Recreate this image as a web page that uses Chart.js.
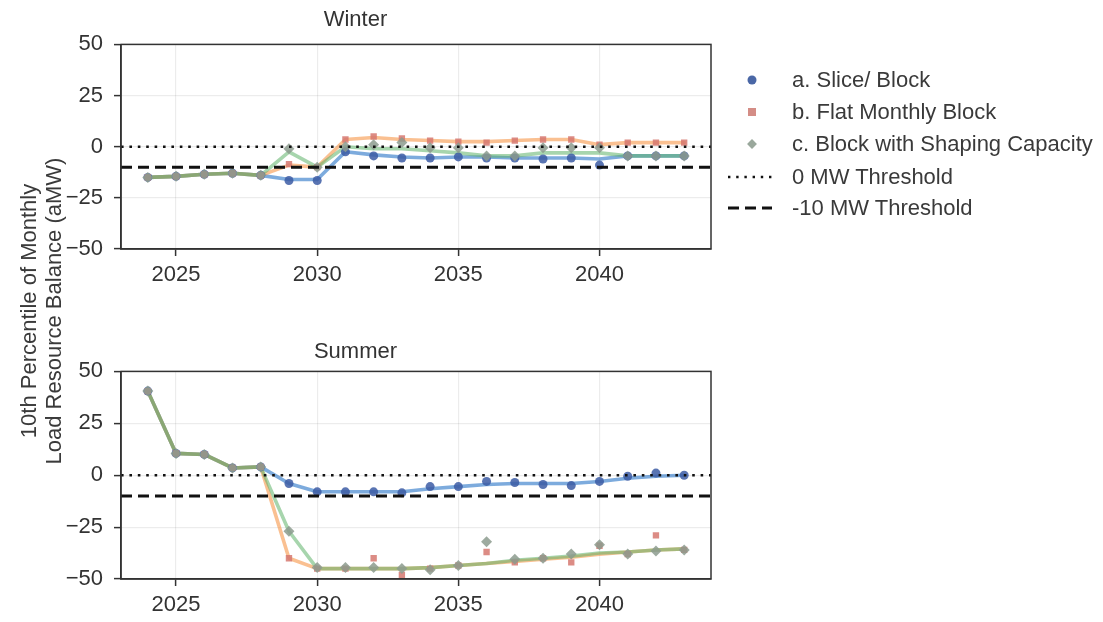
<!DOCTYPE html>
<html><head><meta charset="utf-8">
<script src="https://cdn.jsdelivr.net/npm/chart.js@4.4.1/dist/chart.umd.min.js"></script>
<style>
html,body{margin:0;padding:0;background:#fff;}
body{width:1103px;height:622px;overflow:hidden;position:relative;font-family:"Liberation Sans",Arial,sans-serif;color:#333;}
canvas{position:absolute;left:0;}
#c1{top:0;}
#c2{top:330px;}
.lg{position:absolute;left:0;top:0;}
.row{position:absolute;left:724px;height:30px;width:380px;}
.row svg{position:absolute;left:0;top:0;}
.row span{position:absolute;left:68px;top:0;line-height:30px;font-size:22px;color:#3a3a3a;white-space:nowrap;}
#ytitle{position:absolute;width:420px;height:52px;left:-168px;top:285px;transform:rotate(-90deg);transform-origin:50% 50%;text-align:center;font-size:22px;line-height:25px;color:#3a3a3a;}
</style></head>
<body>
<canvas id="c1" width="832" height="300"></canvas>
<canvas id="c2" width="832" height="292"></canvas>
<div id="ytitle">10th Percentile of Monthly<br>Load Resource Balance (aMW)</div>
<div class="lg" id="legend"></div>
<script>
// ---- data ----
const years = [2024,2025,2026,2027,2028,2029,2030,2031,2032,2033,2034,2035,2036,2037,2038,2039,2040,2041,2042,2043];
const xTicks = [2025,2030,2035,2040];
const yTicks = [-50,-25,0,25,50];
const seriesNames = ["a. Slice/ Block","b. Flat Monthly Block","c. Block with Shaping Capacity"];
const thresholdNames = ["0 MW Threshold","-10 MW Threshold"];
const thresholdValues = [0,-10];

// Winter: points and trend lines
const winterA = [-15,-14.5,-13.5,-13,-14,-16.5,-16.5,-2.5,-4.5,-5.5,-5.5,-5,-5.5,-5.5,-6,-5.5,-9,-4.5,-4.5,-4.5];
const winterB = [-15,-14.5,-13.5,-13,-14,-8.5,-10,3.5,5,4,3,2.5,2,3,3.5,3.5,1,2,2,2];
const winterC = [-15,-14.5,-13.5,-13,-14,-1,-10,0,1,2,-0.5,-0.5,-4.5,-4.5,-0.5,-0.5,-0.5,-4.5,-4.5,-4.5];
const winterLineA = [-15,-14.5,-13.5,-13,-14,-16,-16,-2.5,-4,-5,-5.5,-5,-5,-5.5,-5.5,-5.5,-6,-4.5,-4.5,-4.5];
const winterLineB = [-15,-14.5,-13.5,-13,-14,-9,-10,3.5,4.5,3.5,3,2.5,2.5,3,3.5,3.5,1,2,2,2];
const winterLineC = [-15,-14.5,-13.5,-13,-14,-2.5,-10,0,-1,-1,-2,-3,-4.5,-4.5,-3,-3,-3,-4.5,-4.5,-4.5];

// Summer: points and trend lines
const summerA = [40.5,10.5,10,3.5,4,-4,-8,-8,-8,-8.5,-5.5,-5.5,-3,-3.5,-4.5,-5,-3,-0.5,1,0];
const summerB = [40.5,10.5,10,3.5,4,-40,-45,-45,-40,-48,-45,-43.5,-37,-42,-40,-42,-34,-38,-29,-36];
const summerC = [40.5,10.5,10,3.5,4,-27,-44.5,-44.5,-44.5,-45,-45.5,-43.5,-32,-40.5,-40,-38,-33.5,-38,-36.5,-36];
const summerLineA = [40.5,10.5,10,3.5,4,-4,-8,-8,-8,-8,-6.5,-5.5,-4.5,-4,-4,-4,-3,-1.5,-0.5,0];
const summerLineB = [40.5,10.5,10,3.5,4,-40,-45,-45,-45,-45,-44.5,-43.5,-42.5,-41.5,-40.5,-39.5,-38,-37,-36,-35.5];
const summerLineC = [40.5,10.5,10,3.5,4,-27,-45,-45,-45,-45,-44.5,-43.5,-42.5,-41,-40,-39,-37.5,-37,-36,-35.5];

// ---- styles ----
const FONT = '"Liberation Sans", Arial, sans-serif';
const TXT = '#333';
const xMin = 2023.05, xMax = 2043.95;
const lineColors = ['rgba(45,120,200,0.62)','rgba(245,140,55,0.55)','rgba(95,178,105,0.55)'];
const pointColors = ['rgba(60,92,165,0.85)','rgba(214,120,112,0.85)','rgba(140,155,142,0.85)'];
const pointStyles = ['circle','rect','rectRot'];
const pointRadii = [4.5,4.5,5.5];

const pts = arr => years.map((y,i)=>({x:y,y:arr[i]}));

function buildDatasets(points, lines){
  const ds = [];
  // thresholds on top
  ds.push({label:thresholdNames[0],data:[{x:xMin,y:thresholdValues[0]},{x:xMax,y:thresholdValues[0]}],
    borderColor:'#111',borderWidth:2.6,borderDash:[2.6,5.8],pointRadius:0,fill:false});
  ds.push({label:thresholdNames[1],data:[{x:xMin,y:thresholdValues[1]},{x:xMax,y:thresholdValues[1]}],
    borderColor:'#111',borderWidth:3,borderDash:[11,6],pointRadius:0,fill:false});
  for (let k=2;k>=0;k--){
    ds.push({label:seriesNames[k],data:pts(points[k]),showLine:false,pointStyle:pointStyles[k],
      pointRadius:pointRadii[k],pointBackgroundColor:pointColors[k],pointBorderWidth:0,borderColor:pointColors[k]});
  }
  for (let k=2;k>=0;k--){
    ds.push({label:seriesNames[k]+' trend',data:pts(lines[k]),borderColor:lineColors[k],borderWidth:3.6,
      pointRadius:0,tension:0,fill:false,borderJoinStyle:'round',borderCapStyle:'round'});
  }
  return ds;
}

const framePlugin = {
  id:'frame',
  afterDraw(chart){
    const a = chart.chartArea, ctx = chart.ctx;
    ctx.save();
    ctx.strokeStyle = '#333';
    ctx.lineWidth = 1.5;
    ctx.strokeRect(a.left, a.top, a.right-a.left, a.bottom-a.top);
    ctx.restore();
  }
};

function makeChart(id, title, titlePad, xAxisHeight, points, lines){
  return new Chart(document.getElementById(id), {
    type:'line',
    data:{datasets:buildDatasets(points, lines)},
    plugins:[framePlugin],
    options:{
      responsive:false, animation:false, devicePixelRatio:1,
      layout:{padding:{left:0,right:121,top:0,bottom:0}},
      plugins:{
        legend:{display:false}, tooltip:{enabled:false},
        title:{display:true,text:title,color:TXT,font:{family:FONT,size:22,weight:'normal',lineHeight:1.2},padding:titlePad}
      },
      scales:{
        x:{type:'linear',min:xMin,max:xMax,
          afterBuildTicks:s=>{s.ticks = xTicks.map(v=>({value:v}));},
          afterFit:s=>{s.height = xAxisHeight;},
          grid:{color:'rgba(0,0,0,0.075)',lineWidth:1.2,tickColor:'#333',tickLength:7,tickWidth:1.5},
          border:{display:true,color:'#333',width:1.5},
          ticks:{color:TXT,font:{family:FONT,size:22},padding:6,maxRotation:0,autoSkip:false,callback:v=>String(v)}
        },
        y:{type:'linear',min:-50,max:50,
          afterBuildTicks:s=>{s.ticks = yTicks.map(v=>({value:v}));},
          afterFit:s=>{s.width = 121;},
          grid:{color:'rgba(0,0,0,0.075)',lineWidth:1.2,tickColor:'#333',tickLength:7,tickWidth:1.5},
          border:{display:true,color:'#333',width:1.5},
          ticks:{color:TXT,font:{family:FONT,size:22},padding:11,callback:v=>String(v).replace('-','\u2212')}
        }
      }
    }
  });
}

makeChart('c1','Winter',{top:7,bottom:11},51,[winterA,winterB,winterC],[winterLineA,winterLineB,winterLineC]);
makeChart('c2','Summer',{top:9,bottom:6},43,[summerA,summerB,summerC],[summerLineA,summerLineB,summerLineC]);

// ---- legend (HTML) ----
const legendRows = [
  {y:65, text:seriesNames[0], svg:'<circle cx="28" cy="15" r="4.5" fill="#4a67a6"/>'},
  {y:97, text:seriesNames[1], svg:'<rect x="24" y="11" width="8" height="8" fill="#d48d86"/>'},
  {y:129, text:seriesNames[2], svg:'<rect x="24.5" y="11.5" width="7" height="7" fill="#9aa89c" transform="rotate(45 28 15)"/>'},
  {y:162, text:thresholdNames[0], svg:'<line x1="4" y1="15" x2="48" y2="15" stroke="#111" stroke-width="2.4" stroke-dasharray="2.4 5.8"/>'},
  {y:193, text:thresholdNames[1], svg:'<line x1="4" y1="15" x2="48" y2="15" stroke="#111" stroke-width="3" stroke-dasharray="11 6"/>'}
];
const lg = document.getElementById('legend');
legendRows.forEach(r=>{
  const d = document.createElement('div');
  d.className='row'; d.style.top = r.y+'px';
  d.innerHTML = '<svg width="56" height="30">'+r.svg+'</svg><span>'+r.text+'</span>';
  lg.appendChild(d);
});
</script>
</body></html>
